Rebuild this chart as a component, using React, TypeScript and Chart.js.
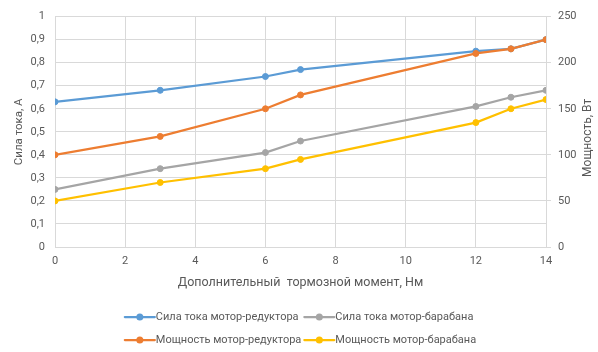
import React, { useEffect, useRef } from 'react';
import { Chart, registerables } from 'chart.js';

Chart.register(...registerables);

// ---- data ----
const torque = [0, 3, 6, 7, 12, 13, 14];
const currentReducer = [0.63, 0.68, 0.74, 0.77, 0.85, 0.86, 0.9];
const currentDrum = [0.25, 0.34, 0.41, 0.46, 0.61, 0.65, 0.68];
const powerReducer = [100, 120, 150, 165, 210, 215, 225];
const powerDrum = [50, 70, 85, 95, 135, 150, 160];

const seriesLabels = [
  'Сила тока мотор-редуктора',
  'Сила тока мотор-барабана',
  'Мощность мотор-редуктора',
  'Мощность мотор-барабана',
];
const xTitle = 'Дополнительный  тормозной момент, Нм';
const leftTitle = 'Сила тока, А';
const rightTitle = 'Мощность, Вт';

const colors = ['#5B9BD5', '#A5A5A5', '#ED7D31', '#FFC000'];
const FONT = 'Roboto, "Liberation Sans", sans-serif';
const TEXT = '#595959';
const GRID = '#D9D9D9';

const toPoints = (ys: number[]) => torque.map((x, i) => ({ x, y: ys[i] }));

const excelLegend = {
  id: 'excelLegend',
  afterDraw(chart: any) {
    const ctx = chart.ctx as CanvasRenderingContext2D;
    const ds = chart.data.datasets;
    const xs = chart.scales.x;
    const area = chart.chartArea;
    ctx.save();
    ctx.font = `11px ${FONT}`;
    const lineLen = 30, gap = 1, colGap = 3, cols = 2;
    const rows = Math.ceil(ds.length / cols);
    const colW: number[] = [];
    for (let c = 0; c < cols; c++) {
      let m = 0;
      for (let r = 0; r < rows; r++) {
        const d = ds[r * cols + c];
        if (d) m = Math.max(m, ctx.measureText(d.label).width);
      }
      colW.push(lineLen + gap + m);
    }
    const total = colW.reduce((a, b) => a + b, 0) + colGap * (cols - 1);
    const cx = (area.left + area.right) / 2;
    const x0 = cx - total / 2;
    ds.forEach((d: any, i: number) => {
      const r = Math.floor(i / cols), c = i % cols;
      let x = x0;
      for (let k = 0; k < c; k++) x += colW[k] + colGap;
      const y = xs.bottom + 17 + r * 23;
      ctx.strokeStyle = d.borderColor;
      ctx.lineWidth = 2.25;
      ctx.lineCap = 'round';
      ctx.beginPath();
      ctx.moveTo(x, y);
      ctx.lineTo(x + lineLen, y);
      ctx.stroke();
      ctx.fillStyle = d.borderColor;
      ctx.beginPath();
      ctx.arc(x + lineLen / 2, y, 3.5, 0, Math.PI * 2);
      ctx.fill();
      ctx.fillStyle = TEXT;
      ctx.textBaseline = 'middle';
      ctx.textAlign = 'left';
      ctx.fillText(d.label, x + lineLen + gap, y);
    });
    // right axis title, reading bottom-to-top
    ctx.font = `12px ${FONT}`;
    ctx.fillStyle = TEXT;
    ctx.textAlign = 'center';
    ctx.textBaseline = 'middle';
    ctx.translate(chart.width - 10, (area.top + area.bottom) / 2 + 6);
    ctx.rotate(-Math.PI / 2);
    ctx.fillText(rightTitle, 0, 0);
    ctx.restore();
  },
};

export default function App() {
  const ref = useRef<HTMLCanvasElement | null>(null);
  useEffect(() => {
    if (!ref.current) return;
    const all = [currentReducer, currentDrum, powerReducer, powerDrum];
    const axes = ['y', 'y', 'y1', 'y1'];
    const orders = [4, 3, 2, 1];
    const chart = new Chart(ref.current, {
      type: 'line',
      data: {
        datasets: all.map((ys, i) => ({
          label: seriesLabels[i],
          data: toPoints(ys),
          yAxisID: axes[i],
          order: orders[i],
          borderColor: colors[i],
          backgroundColor: colors[i],
          pointBackgroundColor: colors[i],
          pointBorderColor: colors[i],
          pointBorderWidth: 1,
          pointRadius: 3,
          borderWidth: 2.25,
          tension: 0,
          fill: false,
        })),
      },
      options: {
        animation: false,
        responsive: false,
        layout: { padding: { top: 12, bottom: 52, left: 0, right: 0 } },
        plugins: { legend: { display: false }, tooltip: { enabled: false } },
        scales: {
          x: {
            type: 'linear',
            min: 0,
            max: 14,
            ticks: { stepSize: 2, color: TEXT, font: { family: FONT, size: 11 }, padding: 8 },
            grid: { color: GRID, drawTicks: false },
            border: { color: GRID },
            title: {
              display: true,
              text: xTitle,
              color: TEXT,
              font: { family: FONT, size: 12.5 },
              padding: { top: 4, bottom: 10 },
            },
            afterFit: (s: any) => { s.height = 53; },
          },
          y: {
            position: 'left',
            min: 0,
            max: 1,
            ticks: {
              stepSize: 0.1,
              color: TEXT,
              font: { family: FONT, size: 11 },
              padding: 10,
              callback: (v: any) => String(Math.round(Number(v) * 10) / 10).replace('.', ','),
            },
            grid: { color: GRID, drawTicks: false },
            border: { display: false },
            title: {
              display: true,
              text: leftTitle,
              color: TEXT,
              font: { family: FONT, size: 11.5 },
              padding: { top: 12, bottom: 0 },
            },
            afterFit: (s: any) => { s.width = 55; },
          },
          y1: {
            position: 'right',
            min: 0,
            max: 250,
            ticks: { stepSize: 50, color: TEXT, font: { family: FONT, size: 11 }, padding: 7 },
            grid: { color: GRID, drawOnChartArea: false, drawTicks: true, tickLength: 5 },
            border: { display: false },
            afterFit: (s: any) => { s.width = 52; },
          },
        },
      },
      plugins: [excelLegend],
    } as any);
    return () => chart.destroy();
  }, []);
  return (
    <div style={{ position: 'absolute', left: 0, top: 0, width: 598, height: 352, background: '#fff' }}>
      <canvas ref={ref} width={598} height={352} style={{ display: 'block' }} />
    </div>
  );
}
